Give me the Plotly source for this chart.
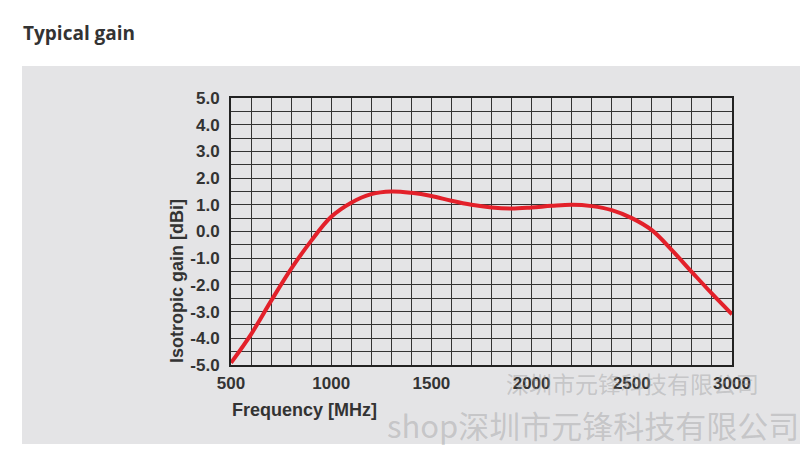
import plotly.graph_objects as go

# Data
freq_mhz = [500, 600, 700, 800, 900, 1000, 1100, 1200, 1300, 1400, 1500, 1600, 1700,
            1800, 1900, 2000, 2100, 2200, 2300, 2400, 2500, 2600, 2700, 2800, 2900, 3000]
gain_dbi = [-4.92, -3.85, -2.6, -1.4, -0.35, 0.55, 1.08, 1.4, 1.5, 1.45, 1.33, 1.15, 1.0,
            0.9, 0.86, 0.9, 0.96, 1.0, 0.95, 0.8, 0.5, 0.05, -0.7, -1.52, -2.33, -3.1]
y_tick_vals = [-5, -4, -3, -2, -1, 0, 1, 2, 3, 4, 5]
y_tick_text = ["%.1f" % v for v in y_tick_vals]
x_tick_vals = [500, 1000, 1500, 2000, 2500, 3000]
x_tick_text = [str(v) for v in x_tick_vals]

W, H = 800, 452
L, R, T, B = 231, 732, 98, 365  # plot area in pixels

def px(x):
    return (x - L) / (R - L)

def py(y):
    return (B - y) / (B - T)

TXT = "#333333"
FONT = "Liberation Sans"

fig = go.Figure()
fig.add_trace(go.Scatter(
    x=freq_mhz, y=gain_dbi, mode="lines",
    line=dict(color="#e3202a", width=4, shape="spline", smoothing=1.0),
    hoverinfo="x+y", showlegend=False,
))

fig.update_layout(
    width=W, height=H,
    margin=dict(l=L, r=W - R, t=T, b=H - B, pad=0),
    paper_bgcolor="white", plot_bgcolor="white",
    font=dict(family=FONT, color=TXT),
    showlegend=False,
    xaxis=dict(
        range=[500, 3000], tickvals=x_tick_vals, ticktext=x_tick_text,
        showgrid=True, gridcolor="#333333", gridwidth=1,
        minor=dict(dtick=100, showgrid=True, gridcolor="#333333", gridwidth=1),
        showline=True, mirror=True, linecolor="#222222", linewidth=2,
        ticks="", ticklabelstandoff=2, zeroline=False,
        tickfont=dict(family=FONT, size=17, color=TXT, weight="bold"),
    ),
    yaxis=dict(
        range=[-5, 5], tickvals=y_tick_vals, ticktext=y_tick_text,
        showgrid=True, gridcolor="#333333", gridwidth=1,
        minor=dict(dtick=0.5, showgrid=True, gridcolor="#333333", gridwidth=1),
        showline=True, mirror=True, linecolor="#222222", linewidth=2,
        ticks="", ticklabelstandoff=6, zeroline=False,
        tickfont=dict(family=FONT, size=17, color=TXT, weight="bold"),
    ),
)

# Gray panel behind the chart
fig.add_shape(type="rect", xref="paper", yref="paper", layer="below",
              x0=px(22), x1=px(800), y0=py(444), y1=py(66),
              fillcolor="#e4e4e6", line=dict(width=0))

# Heading
fig.add_annotation(text="Typical gain", xref="paper", yref="paper",
                   x=px(21), y=py(33), xanchor="left", yanchor="middle",
                   showarrow=False,
                   font=dict(family="Open Sans", size=19, color=TXT, weight="bold"))
# Axis titles
fig.add_annotation(text="Frequency [MHz]", xref="paper", yref="paper",
                   x=px(230), y=py(410), xanchor="left", yanchor="middle",
                   showarrow=False,
                   font=dict(family=FONT, size=18, color=TXT, weight="bold"))
fig.add_annotation(text="Isotropic gain [dBi]", xref="paper", yref="paper",
                   x=px(177), y=py(281), xanchor="center", yanchor="middle",
                   textangle=-90, showarrow=False,
                   font=dict(family=FONT, size=18, color=TXT, weight="bold"))

# Watermarks
WM = "rgba(150,150,150,0.4)"
fig.add_annotation(text="深圳市元锋科技有限公司", xref="paper", yref="paper",
                   x=px(504), y=py(383), xanchor="left", yanchor="middle",
                   showarrow=False,
                   font=dict(family="Noto Sans CJK SC", size=23, color=WM))
fig.add_annotation(text="shop深圳市元锋科技有限公司", xref="paper", yref="paper",
                   x=px(385), y=py(424), xanchor="left", yanchor="middle",
                   showarrow=False,
                   font=dict(family="Noto Sans CJK SC", size=31, color=WM))

fig.write_html("out.html")
